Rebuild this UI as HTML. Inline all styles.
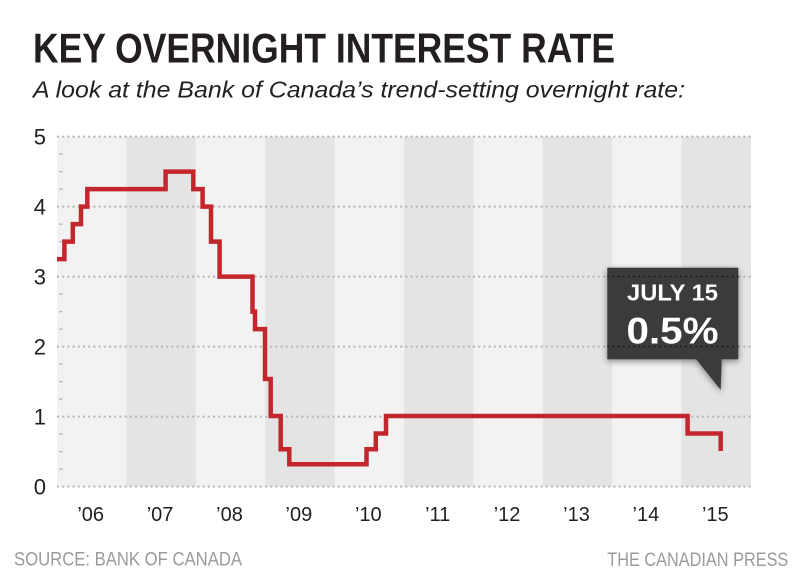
<!DOCTYPE html>
<html>
<head>
<meta charset="utf-8">
<style>
html,body{margin:0;padding:0;background:#fff;}
svg{display:block;}
text{font-family:"Liberation Sans",Arial,sans-serif;}
</style>
</head>
<body>
<svg width="800" height="575" viewBox="0 0 800 575" xmlns="http://www.w3.org/2000/svg">
<defs>
<filter id="sh" x="-20%" y="-20%" width="140%" height="140%">
<feGaussianBlur in="SourceAlpha" stdDeviation="3.5"/>
<feOffset dx="0" dy="2" result="b"/>
<feComponentTransfer><feFuncA type="linear" slope="0.45"/></feComponentTransfer>
<feMerge><feMergeNode/><feMergeNode in="SourceGraphic"/></feMerge>
</filter>
<clipPath id="boxclip"><rect x="607.3" y="267.7" width="131" height="91.6"/></clipPath>
</defs>
<rect width="800" height="575" fill="#fff"/>

<!-- Title -->
<text x="33" y="62.7" font-size="42" font-weight="bold" fill="#231f20" textLength="582" lengthAdjust="spacingAndGlyphs">KEY OVERNIGHT INTEREST RATE</text>
<text x="33" y="97.3" font-size="23" font-style="italic" fill="#231f20" textLength="652" lengthAdjust="spacingAndGlyphs">A look at the Bank of Canada’s trend-setting overnight rate:</text>

<!-- Bands -->
<g>
<rect x="57" y="136.6" width="694" height="350" fill="#f2f2f2"/>
<rect x="126.4" y="136.6" width="69.4" height="350" fill="#e4e4e4"/>
<rect x="265.2" y="136.6" width="69.4" height="350" fill="#e4e4e4"/>
<rect x="404" y="136.6" width="69.4" height="350" fill="#e4e4e4"/>
<rect x="542.8" y="136.6" width="69.4" height="350" fill="#e4e4e4"/>
<rect x="681.6" y="136.6" width="69.4" height="350" fill="#e4e4e4"/>
</g>

<!-- Gridlines -->
<g stroke="#b5b5b5" stroke-width="2" stroke-dasharray="2 3.2">
<line x1="57" y1="486.6" x2="751" y2="486.6"/>
<line x1="57" y1="416.6" x2="751" y2="416.6"/>
<line x1="57" y1="346.6" x2="751" y2="346.6"/>
<line x1="57" y1="276.6" x2="751" y2="276.6"/>
<line x1="57" y1="206.6" x2="751" y2="206.6"/>
<line x1="57" y1="136.6" x2="751" y2="136.6"/>
</g>

<!-- Minor ticks -->
<g stroke="#b8b8b8" stroke-width="1.4">
<line x1="59" y1="154.1" x2="62.5" y2="154.1"/>
<line x1="59" y1="171.6" x2="62.5" y2="171.6"/>
<line x1="59" y1="189.1" x2="62.5" y2="189.1"/>
<line x1="59" y1="224.1" x2="62.5" y2="224.1"/>
<line x1="59" y1="241.6" x2="62.5" y2="241.6"/>
<line x1="59" y1="259.1" x2="62.5" y2="259.1"/>
<line x1="59" y1="294.1" x2="62.5" y2="294.1"/>
<line x1="59" y1="311.6" x2="62.5" y2="311.6"/>
<line x1="59" y1="329.1" x2="62.5" y2="329.1"/>
<line x1="59" y1="364.1" x2="62.5" y2="364.1"/>
<line x1="59" y1="381.6" x2="62.5" y2="381.6"/>
<line x1="59" y1="399.1" x2="62.5" y2="399.1"/>
<line x1="59" y1="434.1" x2="62.5" y2="434.1"/>
<line x1="59" y1="451.6" x2="62.5" y2="451.6"/>
<line x1="59" y1="469.1" x2="62.5" y2="469.1"/>
</g>

<!-- Y labels -->
<g font-size="22" fill="#231f20" text-anchor="end">
<text x="46" y="494.4">0</text>
<text x="46" y="424.4">1</text>
<text x="46" y="354.4">2</text>
<text x="46" y="284.4">3</text>
<text x="46" y="214.4">4</text>
<text x="46" y="144.4">5</text>
</g>

<!-- X labels -->
<g font-size="20" fill="#231f20" text-anchor="middle">
<text x="90.7" y="521">’06</text>
<text x="160.1" y="521">’07</text>
<text x="229.5" y="521">’08</text>
<text x="298.9" y="521">’09</text>
<text x="368.3" y="521">’10</text>
<text x="437.7" y="521">’11</text>
<text x="507.1" y="521">’12</text>
<text x="576.5" y="521">’13</text>
<text x="645.9" y="521">’14</text>
<text x="715.3" y="521">’15</text>
</g>

<!-- Rate line -->
<path d="M57,259.1 H64.4 V241.6 H72.8 V224.1 H81 V206.6 H87.3 V189.1 H165.6 V171.6 H193.3 V189.1 H202.6 V206.6 H211 V241.6 H219.6 V276.6 H252.5 V311.6 H255 V329.1 H265 V379 H270.7 V416 H280.7 V449.3 H289.3 V464.3 H366.5 V449.3 H375.8 V433.5 H386 V416 H687.6 V433.5 H720.7 V451"
 fill="none" stroke="#c4262e" stroke-width="4.5" stroke-linejoin="miter"/>

<!-- Callout -->
<g filter="url(#sh)">
<rect x="607.3" y="267.7" width="131" height="91.6" fill="#3b3b3b"/>
<polygon points="696,359 721.7,359 720.7,390" fill="#3b3b3b"/>
</g>
<g clip-path="url(#boxclip)" stroke="#1c1c1c" stroke-width="1.6" stroke-dasharray="2 3.2">
<line x1="607" y1="276.6" x2="739" y2="276.6"/>
<line x1="607" y1="346.6" x2="739" y2="346.6"/>
</g>
<text x="672.5" y="300.7" font-size="23" font-weight="bold" fill="#ffffff" text-anchor="middle" textLength="91" lengthAdjust="spacingAndGlyphs">JULY 15</text>
<text x="672.5" y="343.3" font-size="37" font-weight="bold" fill="#ffffff" text-anchor="middle" textLength="92" lengthAdjust="spacingAndGlyphs">0.5%</text>

<!-- Footer -->
<text x="14" y="565.7" font-size="19.5" fill="#9b9b9b" textLength="228" lengthAdjust="spacingAndGlyphs">SOURCE: BANK OF CANADA</text>
<text x="607.3" y="566" font-size="19.5" fill="#9b9b9b" textLength="181" lengthAdjust="spacingAndGlyphs">THE CANADIAN PRESS</text>
</svg>
</body>
</html>
